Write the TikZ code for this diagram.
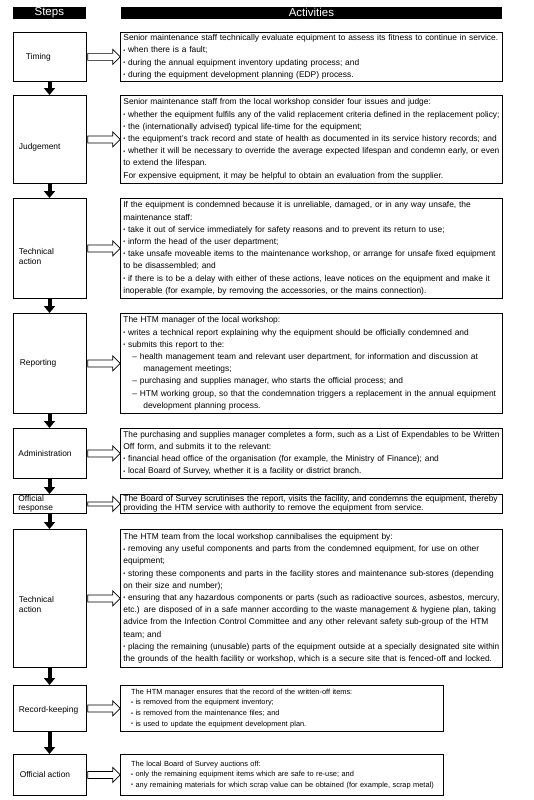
\documentclass[tikz,border=0pt]{standalone}
\usepackage{graphicx}
\usepackage{fontspec}
\setmainfont{Liberation Sans}
\usetikzlibrary{arrows.meta,calc}
\newlength\tw \setlength\tw{376pt}
\newlength\twi \setlength\twi{367pt}
\newsavebox\jbox
\newcommand\bl{{\fontsize{5.5}{5}\selectfont\raisebox{0.7pt}{•}}\ }
\newcommand\JW[2]{\sbox\jbox{#2}\ifdim\wd\jbox>#1\relax\resizebox{#1}{\ht\jbox}{\usebox\jbox}\else\makebox[#1][s]{#2}\fi}
\newcommand\J[1]{\JW{\tw}{#1}}
\newcommand\bodyfont{\fontsize{8.4}{12.2}\selectfont}
\newcommand\respfont{\fontsize{8.4}{9.3}\selectfont}
\newcommand\smallfont{\fontsize{7.4}{10.8}\selectfont}
\newcommand\lblfont{\fontsize{8.4}{9.5}\selectfont}
\newcommand\lbltight{\fontsize{8.4}{8.5}\selectfont}
\newcommand\hdrfont{\fontsize{11.5}{12}\selectfont}
\begin{document}
\begin{tikzpicture}[x=1pt,y=-1pt,
  stepbox/.style={draw, line width=0.8pt, anchor=north west, minimum width=72.8pt, inner sep=0pt},
  act/.style={draw, line width=0.8pt, anchor=north west, inner xsep=3pt, inner ysep=0pt, text width=376pt, align=left, font=\bodyfont},
  smallbox/.style={draw, line width=0.8pt, anchor=north west, minimum width=323pt, inner sep=0pt},
  smalltext/.style={anchor=west, inner sep=0pt, text width=315pt, align=left, font=\smallfont},
  lbl/.style={anchor=west, align=left, inner sep=0pt, font=\lblfont},
  hdr/.style={fill=black, anchor=north west, minimum height=12pt, inner sep=0pt, text=white, font=\hdrfont},
  hollow/.style={draw, line width=0.7pt, fill=white, line join=miter},
  down/.style={line width=4pt, -{Triangle[width=11pt,length=7pt]}}
]
\fill[white] (0,0) rectangle (533,800);
\useasboundingbox (0,0) rectangle (533,800);

% headers
\node[hdr, minimum width=72.8pt] (h1) at (12.7,6.5) {Steps};
\node[hdr, minimum width=381.5pt] (h2) at (120.5,6.5) {Activities};

% step boxes
\node[stepbox, minimum height=49pt]  (s1) at (12.7,32)  {};
\node[stepbox, minimum height=88pt]  (s2) at (12.7,95)  {};
\node[stepbox, minimum height=100pt] (s3) at (12.7,198) {};
\node[stepbox, minimum height=100pt] (s4) at (12.7,313) {};
\node[stepbox, minimum height=50pt]  (s5) at (12.7,428) {};
\node[stepbox, minimum height=19pt]  (s6) at (12.7,494) {};
\node[stepbox, minimum height=138pt] (s7) at (12.7,529) {};
\node[stepbox, minimum height=46pt]  (s8) at (12.7,685) {};
\node[stepbox, minimum height=41pt]  (s9) at (12.7,754) {};

% step labels
\node[lbl] (l1) at ($(s1.west)+(13,0)$) {Timing};
\node[lbl] (l2) at ($(s2.west)+(6,8)$) {Judgement};
\node[lbl] (l3) at ($(s3.west)+(6,8)$) {Technical\\action};
\node[lbl] (l4) at ($(s4.west)+(7,0)$) {Reporting};
\node[lbl] (l5) at ($(s5.west)+(5.5,0)$) {Administration};
\node[lbl, font=\lbltight] (l6) at ($(s6.west)+(5.5,0)$) {Official\\response};
\node[lbl] (l7) at ($(s7.west)+(6,6)$) {Technical\\action};
\node[lbl] (l8) at ($(s8.west)+(6,2)$) {Record-keeping};
\node[lbl] (l9) at ($(s9.west)+(7,0)$) {Official action};

% activity boxes
\node[act, minimum height=49pt] (a1) at (120,32) {\J{Senior maintenance staff technically evaluate equipment to assess its fitness to continue in service.}\\
\bl when there is a fault;\\
\bl during the annual equipment inventory updating process; and\\
\bl during the equipment development planning (EDP) process.};

\node[act, minimum height=88pt] (a2) at (120,95) {Senior maintenance staff from the local workshop consider four issues and judge:\\
\J{\bl whether the equipment fulfils any of the valid replacement criteria defined in the replacement policy;}\\
\bl the (internationally advised) typical life-time for the equipment;\\
\J{\bl the equipment's track record and state of health as documented in its service history records; and}\\
\J{\bl whether it will be necessary to override the average expected lifespan and condemn early, or even}\\
to extend the lifespan.\\
For expensive equipment, it may be helpful to obtain an evaluation from the supplier.};

\node[act, minimum height=100pt] (a3) at (120,198) {\J{If the equipment is condemned because it is unreliable, damaged, or in any way unsafe, the}\\
maintenance staff:\\
\bl take it out of service immediately for safety reasons and to prevent its return to use;\\
\bl inform the head of the user department;\\
\J{\bl take unsafe moveable items to the maintenance workshop, or arrange for unsafe fixed equipment}\\
to be disassembled; and\\
\J{\bl if there is to be a delay with either of these actions, leave notices on the equipment and make it}\\
inoperable (for example, by removing the accessories, or the mains connection).};

\node[act, minimum height=100pt] (a4) at (120,313) {The HTM manager of the local workshop:\\
\bl writes a technical report explaining why the equipment should be officially condemned and\\
\bl submits this report to the:\\
\hspace*{9pt}\JW{\twi}{– health management team and relevant user department, for information and discussion at}\\
\hspace*{20pt}management meetings;\\
\hspace*{9pt}– purchasing and supplies manager, who starts the official process; and\\
\hspace*{9pt}– HTM working group, so that the condemnation triggers a replacement in the annual equipment\\
\hspace*{20pt}development planning process.};

\node[act, minimum height=50pt] (a5) at (120,428) {\J{The purchasing and supplies manager completes a form, such as a List of Expendables to be Written}\\
Off form, and submits it to the relevant:\\
\bl financial head office of the organisation (for example, the Ministry of Finance); and\\
\bl local Board of Survey, whether it is a facility or district branch.};

\node[act, minimum height=19pt, font=\respfont] (a6) at (120,494) {\J{The Board of Survey scrutinises the report, visits the facility, and condemns the equipment, thereby}\\
providing the HTM service with authority to remove the equipment from service.};

\node[act, minimum height=138pt] (a7) at (120,529) {The HTM team from the local workshop cannibalises the equipment by:\\
\J{\bl removing any useful components and parts from the condemned equipment, for use on other}\\
equipment;\\
\J{\bl storing these components and parts in the facility stores and maintenance sub-stores (depending}\\
on their size and number);\\
\J{\bl ensuring that any hazardous components or parts (such as radioactive sources, asbestos, mercury,}\\
\J{etc.) are disposed of in a safe manner according to the waste management \& hygiene plan, taking}\\
\J{advice from the Infection Control Committee and any other relevant safety sub-group of the HTM}\\
team; and\\
\J{\bl placing the remaining (unusable) parts of the equipment outside at a specially designated site within}\\
the grounds of the health facility or workshop, which is a secure site that is fenced-off and locked.};

\node[smallbox, minimum height=46pt] (a8) at (120,685) {};
\node[smalltext] (t8) at ($(a8.west)+(11,0)$) {The HTM manager ensures that the record of the written-off items:\\
\bl is removed from the equipment inventory;\\
\bl is removed from the maintenance files; and\\
\bl is used to update the equipment development plan.};

\node[smallbox, minimum height=41pt] (a9) at (120,754) {};
\node[smalltext] (t9) at ($(a9.west)+(11,0)$) {The local Board of Survey auctions off:\\
\bl only the remaining equipment items which are safe to re-use; and\\
\mbox{\bl any remaining materials for which scrap value can be obtained (for example, scrap metal)}};

% hollow arrows
\foreach \i in {1,2,3,4,5,7,8,9}{
  \draw[hollow] ($(s\i.east)+(1.5,-3.5)$) -- ++(25,0) -- ++(0,-4) -- ++(7.5,7.5) -- ++(-7.5,7.5) -- ++(0,-4) -- ++(-25,0) -- cycle;
}
\draw[hollow] ($(s6.east)+(1.5,-2)$) -- ++(25,0) -- ++(0,-5.5) -- ++(7.5,7.5) -- ++(-7.5,7.5) -- ++(0,-5.5) -- ++(-25,0) -- cycle;

% down arrows
\foreach \i/\j in {1/2,2/3,3/4,4/5,5/6,6/7,7/8,8/9}{
  \draw[down] (s\i.south) -- (s\j.north);
}
\end{tikzpicture}
\end{document}
